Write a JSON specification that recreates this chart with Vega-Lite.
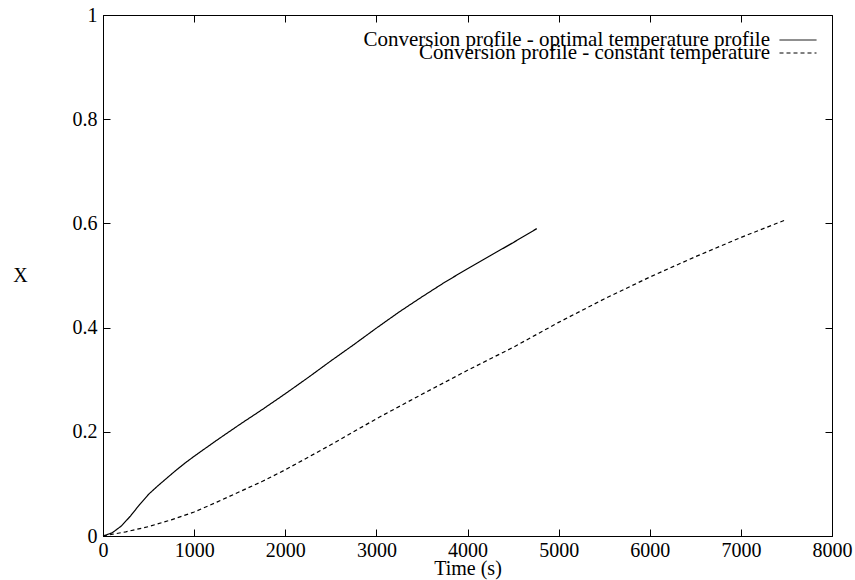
{
  "$schema": "https://vega.github.io/schema/vega-lite/v6.json",
  "width": 729,
  "height": 521,
  "autosize": {"type": "none"},
  "padding": {"left": 103, "top": 15, "right": 23, "bottom": 44},
  "background": "white",
  "config": {
    "view": {"stroke": "black", "strokeWidth": 1},
    "font": "Liberation Serif",
    "axis": {
      "grid": false,
      "domainColor": "black",
      "tickColor": "black",
      "labelColor": "black",
      "titleColor": "black",
      "labelFont": "Liberation Serif",
      "titleFont": "Liberation Serif",
      "labelFontSize": 20,
      "titleFontSize": 20,
      "titleFontWeight": "normal",
      "tickSize": -7
    },
    "legend": {
      "labelFont": "Liberation Serif",
      "labelFontSize": 21,
      "labelColor": "black",
      "title": null,
      "orient": "none",
      "symbolType": "stroke",
      "symbolSize": 1369,
      "symbolStrokeColor": "black",
      "symbolStrokeWidth": 1,
      "labelAlign": "right",
      "labelOffset": -47,
      "labelLimit": 0
    }
  },
  "data": {
    "values": [
      {"series": "Conversion profile - optimal temperature profile", "t": 0, "X": 0},
      {"series": "Conversion profile - optimal temperature profile", "t": 100, "X": 0.006},
      {"series": "Conversion profile - optimal temperature profile", "t": 200, "X": 0.019},
      {"series": "Conversion profile - optimal temperature profile", "t": 300, "X": 0.038},
      {"series": "Conversion profile - optimal temperature profile", "t": 400, "X": 0.06},
      {"series": "Conversion profile - optimal temperature profile", "t": 500, "X": 0.08},
      {"series": "Conversion profile - optimal temperature profile", "t": 600, "X": 0.096},
      {"series": "Conversion profile - optimal temperature profile", "t": 700, "X": 0.111},
      {"series": "Conversion profile - optimal temperature profile", "t": 800, "X": 0.126},
      {"series": "Conversion profile - optimal temperature profile", "t": 900, "X": 0.14},
      {"series": "Conversion profile - optimal temperature profile", "t": 1000, "X": 0.153},
      {"series": "Conversion profile - optimal temperature profile", "t": 1250, "X": 0.184},
      {"series": "Conversion profile - optimal temperature profile", "t": 1500, "X": 0.214},
      {"series": "Conversion profile - optimal temperature profile", "t": 1750, "X": 0.243},
      {"series": "Conversion profile - optimal temperature profile", "t": 2000, "X": 0.273},
      {"series": "Conversion profile - optimal temperature profile", "t": 2250, "X": 0.304},
      {"series": "Conversion profile - optimal temperature profile", "t": 2500, "X": 0.336},
      {"series": "Conversion profile - optimal temperature profile", "t": 2750, "X": 0.367},
      {"series": "Conversion profile - optimal temperature profile", "t": 3000, "X": 0.399},
      {"series": "Conversion profile - optimal temperature profile", "t": 3250, "X": 0.43},
      {"series": "Conversion profile - optimal temperature profile", "t": 3500, "X": 0.459},
      {"series": "Conversion profile - optimal temperature profile", "t": 3750, "X": 0.487},
      {"series": "Conversion profile - optimal temperature profile", "t": 4000, "X": 0.513},
      {"series": "Conversion profile - optimal temperature profile", "t": 4250, "X": 0.538},
      {"series": "Conversion profile - optimal temperature profile", "t": 4500, "X": 0.563},
      {"series": "Conversion profile - optimal temperature profile", "t": 4760, "X": 0.59},
      {"series": "Conversion profile - constant temperature", "t": 0, "X": 0},
      {"series": "Conversion profile - constant temperature", "t": 250, "X": 0.008},
      {"series": "Conversion profile - constant temperature", "t": 500, "X": 0.018},
      {"series": "Conversion profile - constant temperature", "t": 750, "X": 0.031},
      {"series": "Conversion profile - constant temperature", "t": 1000, "X": 0.046},
      {"series": "Conversion profile - constant temperature", "t": 1250, "X": 0.065},
      {"series": "Conversion profile - constant temperature", "t": 1500, "X": 0.085},
      {"series": "Conversion profile - constant temperature", "t": 1750, "X": 0.105},
      {"series": "Conversion profile - constant temperature", "t": 2000, "X": 0.127},
      {"series": "Conversion profile - constant temperature", "t": 2500, "X": 0.175},
      {"series": "Conversion profile - constant temperature", "t": 3000, "X": 0.225},
      {"series": "Conversion profile - constant temperature", "t": 3500, "X": 0.272},
      {"series": "Conversion profile - constant temperature", "t": 4000, "X": 0.318},
      {"series": "Conversion profile - constant temperature", "t": 4500, "X": 0.362},
      {"series": "Conversion profile - constant temperature", "t": 5000, "X": 0.41},
      {"series": "Conversion profile - constant temperature", "t": 5500, "X": 0.455},
      {"series": "Conversion profile - constant temperature", "t": 6000, "X": 0.497},
      {"series": "Conversion profile - constant temperature", "t": 6500, "X": 0.536},
      {"series": "Conversion profile - constant temperature", "t": 7000, "X": 0.573},
      {"series": "Conversion profile - constant temperature", "t": 7480, "X": 0.606}
    ]
  },
  "layer": [
    {
      "transform": [{"filter": "datum.series === 'Conversion profile - optimal temperature profile'"}],
      "mark": {"type": "line", "color": "black", "strokeWidth": 1.2},
      "encoding": {
        "x": {
          "field": "t", "type": "quantitative",
          "scale": {"domain": [0, 8000], "nice": false},
          "axis": {"orient": "bottom", "title": "Time (s)", "format": "d", "values": [0,1000,2000,3000,4000,5000,6000,7000,8000], "labelPadding": 11, "titlePadding": -2, "labelFlush": false}
        },
        "y": {
          "field": "X", "type": "quantitative",
          "scale": {"domain": [0, 1], "nice": false},
          "axis": {"orient": "left", "title": "X", "titleAngle": 0, "titleAlign": "center", "titleBaseline": "middle", "titlePadding": 52, "values": [0,0.2,0.4,0.6,0.8,1], "labelPadding": 13, "labelFlush": false, "format": "~g"}
        },
        "strokeDash": {
          "field": "series", "type": "nominal",
          "scale": {"domain": ["Conversion profile - optimal temperature profile"], "range": [[1, 0]]},
          "legend": {"legendX": 676, "legendY": 6}
        }
      }
    },
    {
      "transform": [{"filter": "datum.series === 'Conversion profile - constant temperature'"}],
      "mark": {"type": "line", "color": "black", "strokeWidth": 1.2},
      "encoding": {
        "x": {"field": "t", "type": "quantitative", "axis": null},
        "y": {"field": "X", "type": "quantitative", "axis": null},
        "strokeDash": {
          "field": "series", "type": "nominal",
          "scale": {"domain": ["Conversion profile - constant temperature"], "range": [[4, 3]]},
          "legend": {"legendX": 676, "legendY": 19}
        }
      }
    },
    {
      "mark": {"type": "line", "opacity": 0},
      "encoding": {
        "x": {
          "field": "t", "type": "quantitative",
          "axis": {"orient": "top", "title": null, "labels": false, "domain": false, "values": [0,1000,2000,3000,4000,5000,6000,7000,8000]}
        },
        "y": {
          "field": "X", "type": "quantitative",
          "axis": {"orient": "right", "title": null, "labels": false, "domain": false, "values": [0,0.2,0.4,0.6,0.8,1]}
        },
        "detail": {"field": "series"}
      }
    }
  ],
  "resolve": {
    "axis": {"x": "independent", "y": "independent"},
    "scale": {"strokeDash": "independent"},
    "legend": {"strokeDash": "independent"}
  }
}
